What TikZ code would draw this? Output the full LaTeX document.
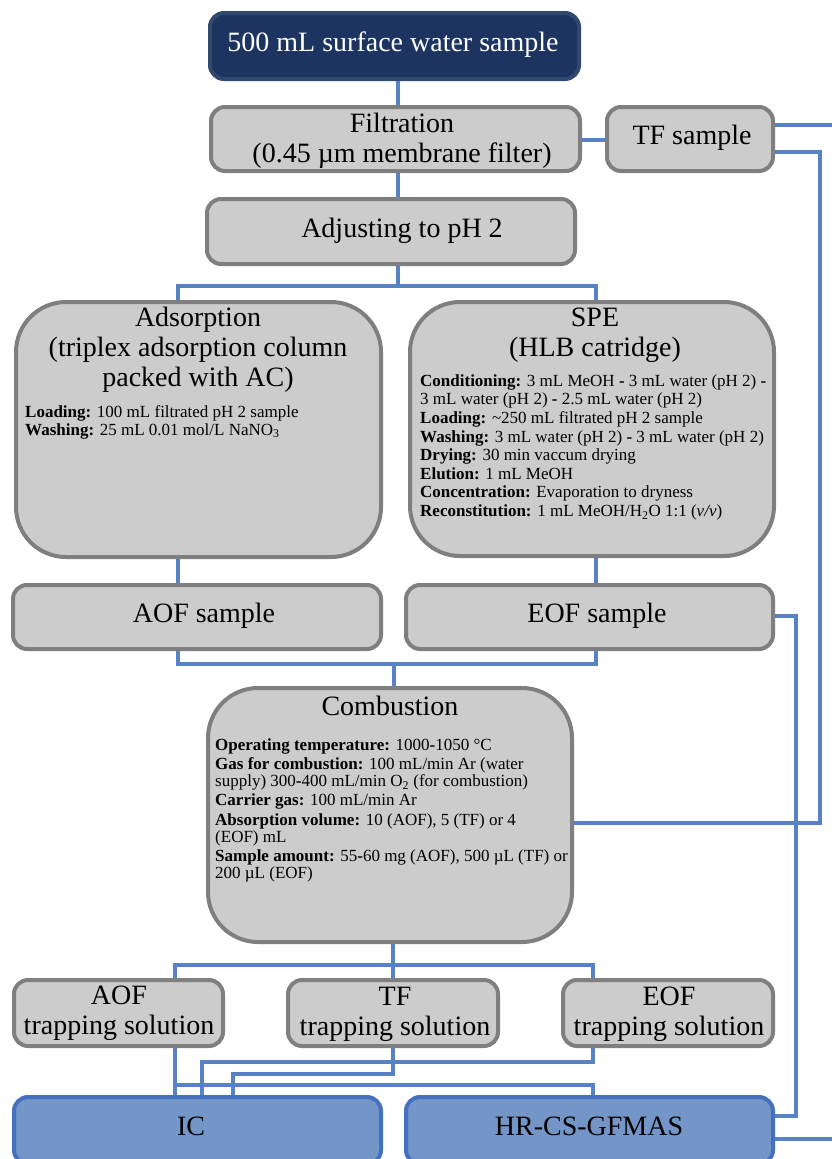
\documentclass[tikz,border=0pt]{standalone}
\usepackage{fontspec}
\setmainfont{Liberation Serif}
\usetikzlibrary{calc}
\definecolor{navyfill}{HTML}{1D3461}
\definecolor{navyline}{HTML}{30496F}
\definecolor{grayfill}{HTML}{CCCCCC}
\definecolor{grayline}{HTML}{7F7F7F}
\definecolor{connblue}{HTML}{5882C6}
\definecolor{bluefill}{HTML}{7395C8}
\definecolor{blueline}{HTML}{4570BF}
\newcommand\FBig{\fontsize{28}{30}\selectfont}
\newcommand\FSmallA{\fontsize{17}{17.5}\selectfont}
\newcommand\FSmallB{\fontsize{17}{18.6}\selectfont}
\newcommand\FSmallC{\fontsize{17}{17.2}\selectfont}
\begin{document}
\begin{tikzpicture}[x=1pt,y=-1pt,
  box/.style={rectangle, line width=4pt, inner sep=0pt},
  gbox/.style={box, draw=grayline, fill=grayfill, rounded corners=14pt},
  bigbox/.style={box, draw=grayline, fill=grayfill, rounded corners=50pt},
  navybox/.style={box, draw=navyline, fill=navyfill, rounded corners=14pt},
  bluebox/.style={box, draw=blueline, fill=bluefill, rounded corners=14pt},
  conn/.style={draw=connblue, line width=3.5pt},
  ttl/.style={inner sep=0pt, font=\FBig, align=center},
  smalltxt/.style={inner sep=0pt, align=left, anchor=north west},
]
\useasboundingbox (0,0) rectangle (832,1159);

% boxes
\node[navybox, minimum width=369pt, minimum height=66pt] (top) at (394.5,46) {};
\node[gbox, minimum width=369pt, minimum height=64pt] (filt) at (395.5,139) {};
\node[gbox, minimum width=166pt, minimum height=64pt] (tf) at (690,139) {};
\node[gbox, minimum width=368pt, minimum height=65pt] (adj) at (391,231.5) {};
\node[bigbox, minimum width=365pt, minimum height=255pt] (ads) at (198.5,429.5) {};
\node[bigbox, minimum width=364pt, minimum height=254pt] (spe) at (592,429) {};
\node[gbox, minimum width=368pt, minimum height=64pt] (aof) at (197,617) {};
\node[gbox, minimum width=367pt, minimum height=64pt] (eof) at (589.5,617) {};
\node[bigbox, minimum width=364pt, minimum height=254pt] (comb) at (390,815) {};
\node[gbox, minimum width=209pt, minimum height=66pt] (taof) at (118.5,1013) {};
\node[gbox, minimum width=210pt, minimum height=66pt] (ttf) at (393,1013) {};
\node[gbox, minimum width=210pt, minimum height=66pt] (teof) at (668,1013) {};
\node[bluebox, minimum width=367pt, minimum height=67pt] (ic) at (197.5,1130.5) {};
\node[bluebox, minimum width=367pt, minimum height=67pt] (hr) at (589.5,1130.5) {};

% texts
\node[ttl, text=white, anchor=base] (ttop) at (393,51) {500 mL surface water sample};
\node[ttl, anchor=north] (tfilt) at (402,113) {Filtration\\(0.45 µm membrane filter)};
\node[ttl, anchor=base] (tadj) at (402,237) {Adjusting to pH 2};
\node[ttl, anchor=base] (ttfs) at (692,144) {TF sample};
\node[ttl, anchor=north] (tads) at (198,307) {Adsorption\\(triplex adsorption column\\packed with AC)};
\node[smalltxt, font=\FSmallA] (dads) at (25,405.5) {\textbf{Loading:} 100 mL filtrated pH 2 sample\\
\textbf{Washing:} 25 mL 0.01 mol/L NaNO\textsubscript{3}};
\node[ttl, anchor=north] (tspe) at (595,308) {SPE\\(HLB catridge)};
\node[smalltxt, font=\FSmallB] (dspe) at (420,374.3) {\textbf{Conditioning:} 3 mL MeOH \textbf{-} 3 mL water (pH 2) \textbf{-}\\
3 mL water (pH 2) \textbf{-} 2.5 mL water (pH 2)\\
\textbf{Loading:} \textasciitilde250 mL filtrated pH 2 sample\\
\textbf{Washing:} 3 mL water (pH 2) \textbf{-} 3 mL water (pH 2)\\
\textbf{Drying:} 30 min vaccum drying\\
\textbf{Elution:} 1 mL MeOH\\
\textbf{Concentration:} Evaporation to dryness\\
\textbf{Reconstitution:} 1 mL MeOH/H\textsubscript{2}O 1:1 (\textit{v/v})};
\node[ttl, anchor=base] (taofs) at (204,622) {AOF sample};
\node[ttl, anchor=base] (teofs) at (597,622) {EOF sample};
\node[ttl, anchor=base] (tcomb) at (390,715) {Combustion};
\node[smalltxt, font=\FSmallC] (dcomb) at (215,738.3) {\textbf{Operating temperature:} 1000\textbf{-}1050 °C\\[2pt]
\textbf{Gas for combustion:} 100 mL/min Ar (water\\
supply) 300\textbf{-}400 mL/min O\textsubscript{2} (for combustion)\\[2pt]
\textbf{Carrier gas:} 100 mL/min Ar\\[2pt]
\textbf{Absorption volume:} 10 (AOF), 5 (TF) or 4\\
(EOF) mL\\[2pt]
\textbf{Sample amount:} 55\textbf{-}60 mg (AOF), 500 µL (TF) or\\
200 µL (EOF)};
\node[ttl, anchor=north] (ttaof) at (119,986) {AOF\\trapping solution};
\node[ttl, anchor=north] (tttf) at (395,986.5) {TF\\trapping solution};
\node[ttl, anchor=north] (tteof) at (669,986.5) {EOF\\trapping solution};
\node[ttl, anchor=base] (tic) at (191,1135) {IC};
\node[ttl, anchor=base] (thr) at (589,1135) {HR-CS-GFMAS};

% connectors
\coordinate (sx) at (398,0);
\draw[conn] (top.south -| sx) -- (filt.north -| sx);
\draw[conn] (filt.south -| sx) -- (adj.north -| sx);
\coordinate (j1) at (398,286);
\draw[conn] (adj.south -| sx) -- (j1);
\coordinate (xa) at (178,0);
\coordinate (xs) at (596,0);
\draw[conn] (ads.north -| xa) |- (j1) -| (spe.north -| xs);
\draw[conn] (ads.south -| xa) -- (aof.north -| xa);
\draw[conn] (spe.south -| xs) -- (eof.north -| xs);
\coordinate (j2) at (394,664);
\draw[conn] (aof.south -| xa) |- (j2) -| (eof.south -| xs);
\draw[conn] (j2) -- (comb.north -| j2);
\coordinate (j3) at (393,965);
\coordinate (xl) at (175,0);
\coordinate (xr) at (593,0);
\draw[conn] (comb.south -| j3) -- (j3);
\draw[conn] (taof.north -| xl) |- (j3) -| (teof.north -| xr);
\draw[conn] (j3) -- (ttf.north -| j3);
% below traps
\draw[conn] (taof.south -| xl) -- (ic.north -| xl);
\coordinate (h1) at (175,1085);
\draw[conn] (h1) -| (hr.north -| xr);
\coordinate (h2) at (202,1062);
\draw[conn] (teof.south -| xr) |- (h2) -- (ic.north -| h2);
\coordinate (h3) at (233,1074);
\draw[conn] (ttf.south -| j3) |- (h3) -- (ic.north -| h3);
% filtration to TF sample
\coordinate (f1) at (0,140);
\draw[conn] (filt.east |- f1) -- (tf.west |- f1);
% right side
\coordinate (r1) at (840,125);
\coordinate (r1b) at (840,1139);
\draw[conn] (tf.east |- r1) -- (r1) -- (r1b) -- (hr.east |- r1b);
\coordinate (r2) at (820,152);
\coordinate (r2b) at (820,823);
\draw[conn] (tf.east |- r2) -- (r2) -- (r2b) -- (comb.east |- r2b);
\coordinate (r3) at (796,616);
\coordinate (r3b) at (796,1116);
\draw[conn] (eof.east |- r3) -- (r3) -- (r3b) -- (hr.east |- r3b);
\end{tikzpicture}
\end{document}
